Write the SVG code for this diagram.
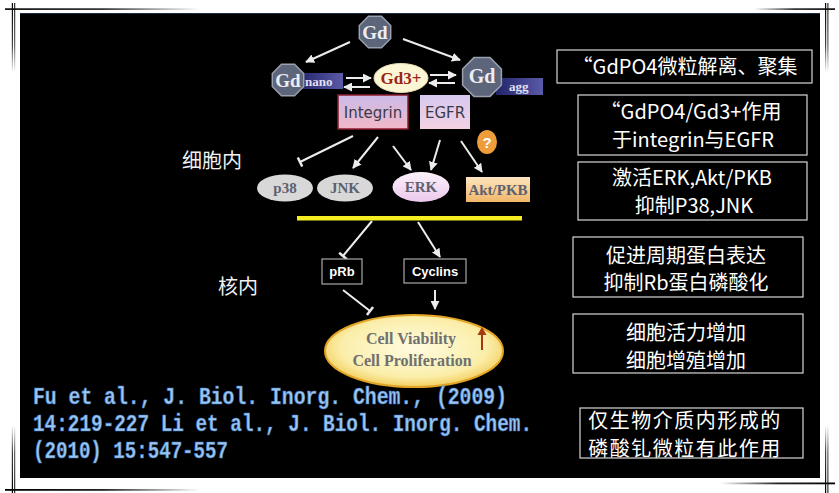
<svg xmlns="http://www.w3.org/2000/svg" width="839" height="493" viewBox="0 0 839 493">
<defs>
<style>
.ln{stroke:#ececec;stroke-width:2;fill:none}
.oct{fill:#5c6579;stroke:#9aa0ae;stroke-width:1.5}
.gd{font-family:"Liberation Serif",serif;font-weight:bold;fill:#eceef4;text-anchor:middle}
.bar{font-family:"Liberation Serif",serif;font-weight:bold;font-size:13px;fill:#e0e0f0}
.mol{font-family:"Liberation Serif",serif;font-weight:bold;font-size:15px;fill:#5c6070;text-anchor:middle}
.rcp{font-family:"DejaVu Sans",sans-serif;font-size:15px;fill:#3a3a48;text-anchor:middle}
.wb{fill:#000;stroke:#a8a8a8;stroke-width:1.2}
.nb{font-family:"Liberation Sans",sans-serif;font-weight:bold;font-size:13px;fill:#fff;text-anchor:middle}
.lbl{font-family:"Noto Sans CJK SC",sans-serif;font-size:20px;fill:#f0f0f0}
.rb{fill:none;stroke:#d8d8d8;stroke-width:1.2}
.rt{font-family:"Noto Sans CJK SC",sans-serif;font-size:20px;fill:#fff;text-anchor:middle}
.cell{font-family:"Liberation Serif",serif;font-weight:bold;font-size:16px;fill:#707070;text-anchor:middle}
.cit{font-family:"Liberation Mono",monospace;font-weight:bold;font-size:24px;fill:#9cc6f0;stroke:#3f78c0;stroke-width:0.6}
</style>
<marker id="ah" viewBox="0 0 10 10" refX="9" refY="5" markerWidth="9" markerHeight="9" markerUnits="userSpaceOnUse" orient="auto">
<path d="M0,0 L10,5 L0,10 z" fill="#ececec"/>
</marker>
<marker id="tb" viewBox="-2 -6 4 12" refX="0" refY="0" markerWidth="4" markerHeight="12" markerUnits="userSpaceOnUse" orient="auto">
<path d="M0,-5 V5" stroke="#ececec" stroke-width="2.5"/>
</marker>
<linearGradient id="barg" x1="0" x2="1" y1="0" y2="0">
<stop offset="0" stop-color="#23236a"/><stop offset="1" stop-color="#5a5aa8"/>
</linearGradient>
<linearGradient id="intg" x1="0" x2="0" y1="0" y2="1">
<stop offset="0" stop-color="#cbbbe8"/><stop offset="1" stop-color="#f2b8c8"/>
</linearGradient>
<linearGradient id="egfg" x1="0" x2="0" y1="0" y2="1">
<stop offset="0" stop-color="#d6c8f0"/><stop offset="1" stop-color="#f2d2e2"/>
</linearGradient>
<linearGradient id="erkg" x1="0" x2="0" y1="0" y2="1">
<stop offset="0" stop-color="#fbf2fb"/><stop offset="1" stop-color="#ecc8ec"/>
</linearGradient>
<linearGradient id="aktg" x1="0" x2="0" y1="0" y2="1">
<stop offset="0" stop-color="#fde6c0"/><stop offset="1" stop-color="#f1b668"/>
</linearGradient>
<radialGradient id="cellg" cx="0.5" cy="0.45" r="0.55">
<stop offset="0" stop-color="#fffbe0"/><stop offset="0.75" stop-color="#fbeeaa"/><stop offset="1" stop-color="#f3cf60"/>
</radialGradient>
<linearGradient id="fadeR" x1="0" x2="1" y1="0" y2="0">
<stop offset="0" stop-color="#000"/><stop offset="0.5" stop-color="#222"/><stop offset="1" stop-color="#fff"/>
</linearGradient>
<linearGradient id="fadeL" x1="0" x2="1" y1="0" y2="0">
<stop offset="0" stop-color="#fff"/><stop offset="0.5" stop-color="#222"/><stop offset="1" stop-color="#000"/>
</linearGradient>
<linearGradient id="fadeD" x1="0" x2="0" y1="0" y2="1">
<stop offset="0" stop-color="#000"/><stop offset="0.6" stop-color="#444"/><stop offset="1" stop-color="#fff"/>
</linearGradient>
<linearGradient id="fadeU" x1="0" x2="0" y1="0" y2="1">
<stop offset="0" stop-color="#fff"/><stop offset="0.4" stop-color="#444"/><stop offset="1" stop-color="#000"/>
</linearGradient>
</defs>

<rect x="0" y="0" width="839" height="493" fill="#fff"/>
<g id="frame">
<rect x="20" y="13" width="800" height="465" fill="#000"/>
<line x1="20" y1="13.5" x2="820" y2="13.5" stroke="#1c2a44" stroke-width="1"/>
<rect x="5" y="8.3" width="195" height="1.6" fill="url(#fadeR)"/>
<rect x="754" y="8.3" width="81" height="1.6" fill="url(#fadeL)"/>
<rect x="5" y="489" width="195" height="1.8" fill="url(#fadeR)"/>
<rect x="720" y="482.5" width="115" height="1.8" fill="url(#fadeL)"/>
<rect x="11.8" y="3" width="1.2" height="70" fill="url(#fadeD)"/>
<rect x="14.2" y="3" width="1" height="70" fill="url(#fadeD)"/>
<rect x="825" y="3" width="1.2" height="70" fill="url(#fadeD)"/>
<rect x="827.4" y="3" width="1" height="70" fill="url(#fadeD)"/>
<rect x="11.8" y="425" width="1.2" height="68" fill="url(#fadeU)"/>
<rect x="14.2" y="425" width="1" height="68" fill="url(#fadeU)"/>
<rect x="825" y="425" width="1.2" height="68" fill="url(#fadeU)"/>
<rect x="827.4" y="425" width="1" height="68" fill="url(#fadeU)"/>
</g>

<g id="connectors">
<line class="ln" x1="350" y1="42" x2="306" y2="62" marker-end="url(#ah)"/>
<line class="ln" x1="403" y1="39" x2="460" y2="60" marker-end="url(#ah)"/>
<line class="ln" x1="346" y1="78" x2="371" y2="78" stroke-width="1.5" marker-end="url(#ah)"/>
<line class="ln" x1="370" y1="87" x2="344" y2="87" stroke-width="1.5" marker-end="url(#ah)"/>
<line class="ln" x1="430" y1="75" x2="456" y2="75" stroke-width="1.5" marker-end="url(#ah)"/>
<line class="ln" x1="455" y1="83" x2="429" y2="83" stroke-width="1.5" marker-end="url(#ah)"/>
<line class="ln" x1="353" y1="136" x2="300" y2="162" marker-end="url(#tb)"/>
<line class="ln" x1="378" y1="137" x2="353" y2="168" marker-end="url(#ah)"/>
<line class="ln" x1="393" y1="146" x2="411" y2="170" marker-end="url(#ah)"/>
<line class="ln" x1="440" y1="140" x2="431" y2="170" marker-end="url(#ah)"/>
<line class="ln" x1="461" y1="141" x2="482" y2="172" marker-end="url(#ah)"/>
<line class="ln" x1="372" y1="221" x2="343" y2="256" marker-end="url(#tb)"/>
<line class="ln" x1="418" y1="222" x2="440" y2="257" marker-end="url(#ah)"/>
<line class="ln" x1="343" y1="290" x2="370" y2="311" marker-end="url(#tb)"/>
<line class="ln" x1="435" y1="290" x2="435" y2="309" stroke-width="1.5" marker-end="url(#ah)"/>
</g>

<g id="gd-top">
<polygon class="oct" points="381.5,16.3 390.7,25.5 390.7,38.5 381.5,47.7 368.5,47.7 359.3,38.5 359.3,25.5 368.5,16.3"/>
<text class="gd" x="375" y="39" font-size="19">Gd</text>
</g>
<g id="gd-nano">
<rect x="298" y="73" width="45" height="16" fill="url(#barg)"/>
<text class="bar" x="305" y="86">nano</text>
<polygon class="oct" points="294.5,64.3 303.7,73.5 303.7,86.5 294.5,95.7 281.5,95.7 272.3,86.5 272.3,73.5 281.5,64.3"/>
<text class="gd" x="288" y="87" font-size="19">Gd</text>
</g>
<g id="gd3">
<ellipse cx="401" cy="78" rx="27" ry="14.5" fill="#fdf6d4" stroke="#e8dcb0" stroke-width="1"/>
<text x="401" y="84" font-family="Liberation Serif,serif" font-weight="bold" font-size="17" fill="#9a2418" text-anchor="middle">Gd3+</text>
</g>
<g id="gd-agg">
<rect x="496" y="78" width="47" height="17" fill="url(#barg)"/>
<text class="bar" x="509" y="91">agg</text>
<polygon class="oct" points="490,57.6 501.4,69 501.4,85 490,96.4 474,96.4 462.6,85 462.6,69 474,57.6"/>
<text class="gd" x="482" y="83" font-size="20">Gd</text>
</g>
<g id="integrin">
<rect x="338" y="95" width="70" height="34" fill="url(#intg)" stroke="#8a1c2c" stroke-width="1.5"/>
<text class="rcp" x="373" y="118">Integrin</text>
</g>
<g id="egfr">
<rect x="420" y="95" width="50" height="34" fill="url(#egfg)"/>
<text class="rcp" x="445" y="118">EGFR</text>
</g>
<g id="question">
<ellipse cx="487" cy="142" rx="10" ry="12" fill="#ef9d3c"/>
<text x="487" y="148" font-family="Liberation Sans,sans-serif" font-weight="bold" font-size="15" fill="#fff" text-anchor="middle">?</text>
</g>
<g id="label-cyto"><text class="lbl" x="182" y="168">细胞内</text></g>
<g id="p38">
<ellipse cx="285" cy="188" rx="28" ry="13.5" fill="#d8d8d8"/>
<text class="mol" x="285" y="193">p38</text>
</g>
<g id="jnk">
<ellipse cx="345" cy="188" rx="28" ry="13.5" fill="#d8d8d8"/>
<text class="mol" x="345" y="193">JNK</text>
</g>
<g id="erk">
<ellipse cx="421" cy="187" rx="28.5" ry="15" fill="url(#erkg)"/>
<text class="mol" x="421" y="192">ERK</text>
</g>
<g id="akt">
<rect x="466" y="177" width="64" height="25" fill="url(#aktg)"/>
<text class="mol" x="498" y="195" fill="#333" font-size="14">Akt/PKB</text>
</g>
<g id="membrane"><rect x="297" y="216" width="225" height="4.5" fill="#f6ee22"/></g>
<g id="label-nuc"><text class="lbl" x="218" y="294">核内</text></g>
<g id="prb">
<rect class="wb" x="322" y="259" width="40" height="25"/>
<text class="nb" x="342" y="276">pRb</text>
</g>
<g id="cyclins">
<rect class="wb" x="404" y="259" width="62" height="24"/>
<text class="nb" x="435" y="276">Cyclins</text>
</g>
<g id="cell">
<ellipse cx="414" cy="351" rx="89" ry="36" fill="url(#cellg)" stroke="#e2a424" stroke-width="2"/>
<text class="cell" x="411" y="344">Cell Viability</text>
<text class="cell" x="412" y="366">Cell Proliferation</text>
<line x1="482" y1="350" x2="482" y2="333" stroke="#a4380e" stroke-width="2"/>
<path d="M477.5,335 L482,327 L486.5,335 z" fill="#a4380e"/>
</g>

<g id="box1">
<rect class="rb" x="557" y="50" width="255" height="33"/>
<text class="rt" x="685" y="74" font-size="21">“GdPO4微粒解离、聚集</text>
</g>
<g id="box2">
<rect class="rb" x="578" y="95" width="229" height="60"/>
<text class="rt" x="691" y="119" font-size="19.5">“GdPO4/Gd3+作用</text>
<text class="rt" x="693" y="147" font-size="19.5">于integrin与EGFR</text>
</g>
<g id="box3">
<rect class="rb" x="578" y="162" width="229" height="58"/>
<text class="rt" x="692" y="185" font-size="19.5">激活ERK,Akt/PKB</text>
<text class="rt" x="694" y="213" font-size="19.5">抑制P38,JNK</text>
</g>
<g id="box4">
<rect class="rb" x="573" y="237" width="230" height="60"/>
<text class="rt" x="686" y="263">促进周期蛋白表达</text>
<text class="rt" x="686" y="290">抑制Rb蛋白磷酸化</text>
</g>
<g id="box5">
<rect class="rb" x="573" y="314" width="230" height="59"/>
<text class="rt" x="686" y="340" font-size="19">细胞活力增加</text>
<text class="rt" x="686" y="368" font-size="19">细胞增殖增加</text>
</g>
<g id="box6">
<rect class="rb" x="580" y="408" width="223" height="50"/>
<text class="rt" x="685" y="428" font-size="18" letter-spacing="1.5">仅生物介质内形成的</text>
<text class="rt" x="685" y="455.5" font-size="18" letter-spacing="1.5">磷酸钆微粒有此作用</text>
</g>

<g id="citation">
<text class="cit" x="33" y="404" textLength="474" lengthAdjust="spacingAndGlyphs">Fu et al., J. Biol. Inorg. Chem., (2009)</text>
<text class="cit" x="33" y="431" textLength="499" lengthAdjust="spacingAndGlyphs">14:219-227 Li et al., J. Biol. Inorg. Chem.</text>
<text class="cit" x="33" y="458" textLength="195" lengthAdjust="spacingAndGlyphs">(2010) 15:547-557</text>
</g>
</svg>
